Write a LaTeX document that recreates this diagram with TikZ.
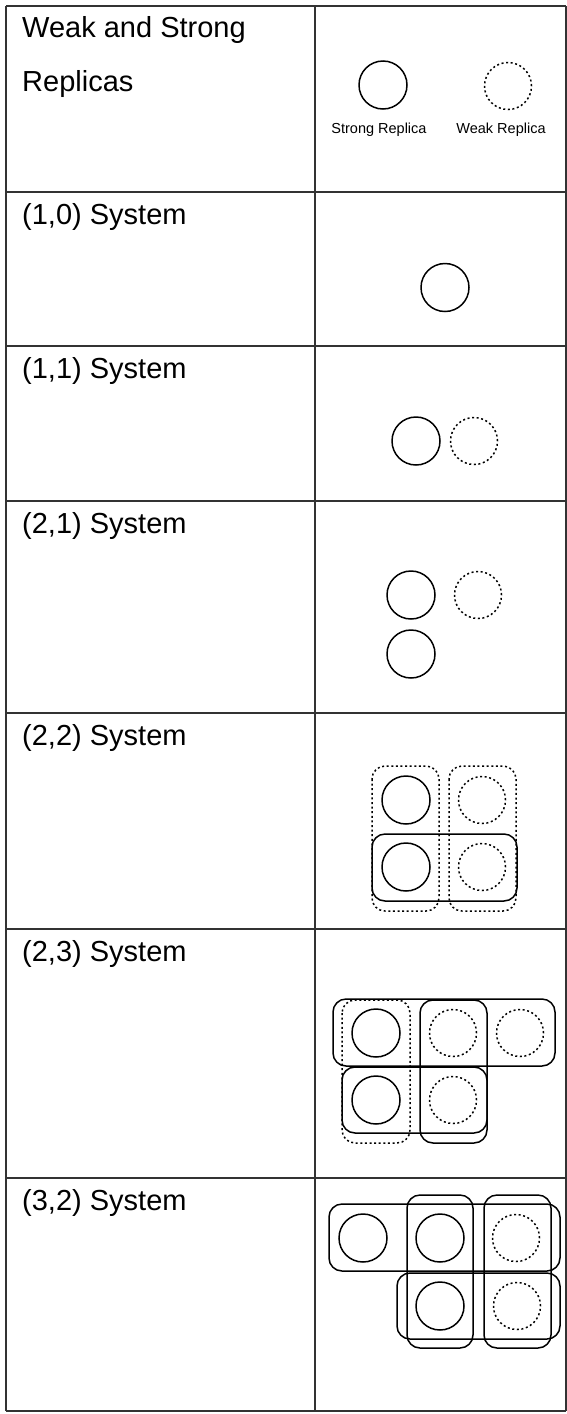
\documentclass[tikz,border=0pt]{standalone}
\usepackage{fontspec}
\setmainfont{Liberation Sans}
\begin{document}
\begin{tikzpicture}[x=1pt,y=-1pt,
  grid/.style={draw=black!80,line width=1.3pt},
  strong/.style={circle,draw,line width=1.5pt,minimum size=48pt,inner sep=0pt},
  weak/.style={circle,draw,line width=1.5pt,dash pattern=on 2pt off 2.6pt,minimum size=47pt,inner sep=0pt},
  grp/.style={draw,line width=1.5pt,rounded corners=13pt},
  wgrp/.style={grp,dash pattern=on 2pt off 2.6pt},
  lbl/.style={anchor=base west,inner sep=0pt,font=\fontsize{29}{35}\selectfont},
  capt/.style={anchor=base,inner sep=0pt,font=\fontsize{14.5}{17}\selectfont}]
\useasboundingbox (0,0) rectangle (567,1414);
% table
\foreach \y in {6,192,346,501,713,929,1178,1411} \draw[grid] (6,\y) -- (566,\y);
\foreach \x in {6,315,566} \draw[grid] (\x,6) -- (\x,1411);
% labels
\node[lbl] (t1) at (22,37.5) {Weak and Strong};
\node[lbl] (t2) at (22,91) {Replicas};
\node[lbl] (r10) at (22,224) {(1,0) System};
\node[lbl] (r11) at (22,378) {(1,1) System};
\node[lbl] (r21) at (22,533) {(2,1) System};
\node[lbl] (r22) at (22,745) {(2,2) System};
\node[lbl] (r23) at (22,961) {(2,3) System};
\node[lbl] (r32) at (22,1210) {(3,2) System};
% legend
\node[strong] (ls) at (383,85) {};
\node[weak] (lw) at (508,86) {};
\node[capt] (lsl) at (379,133) {Strong Replica};
\node[capt] (lwl) at (501,133) {Weak Replica};
% (1,0)
\node[strong] (a1) at (445,287.5) {};
% (1,1)
\node[strong] (b1) at (416,441) {};
\node[weak] (b2) at (474,441) {};
% (2,1)
\node[strong] (c1) at (411,595) {};
\node[strong] (c2) at (411,654) {};
\node[weak] (c3) at (478,595) {};
% (2,2)
\node[strong] (d11) at (406,800) {};
\node[strong] (d21) at (406,867) {};
\node[weak] (d12) at (482,800) {};
\node[weak] (d22) at (482,867) {};
\draw[wgrp] (372,766) rectangle (439,911);
\draw[wgrp] (449,766) rectangle (516,911);
\draw[grp] (372,834) rectangle (517,901);
% (2,3)
\node[strong] (e11) at (376,1033) {};
\node[strong] (e21) at (376,1100) {};
\node[weak] (e12) at (453,1033) {};
\node[weak] (e13) at (520,1033) {};
\node[weak] (e22) at (453,1100) {};
\draw[grp] (333,999) rectangle (555,1066);
\draw[grp] (342,1067) rectangle (487,1133);
\draw[grp] (420,1000) rectangle (487,1143);
\draw[wgrp] (342,1000) rectangle (410,1143);
% (3,2)
\node[strong] (f11) at (363,1238) {};
\node[strong] (f12) at (440,1238) {};
\node[strong] (f22) at (440,1306) {};
\node[weak] (f13) at (516,1238) {};
\node[weak] (f23) at (517,1306) {};
\draw[grp] (329,1204) rectangle (560,1271);
\draw[grp] (407,1195) rectangle (473,1348);
\draw[grp] (484,1195) rectangle (551,1348);
\draw[grp] (397,1273) rectangle (560,1339);
\end{tikzpicture}
\end{document}
